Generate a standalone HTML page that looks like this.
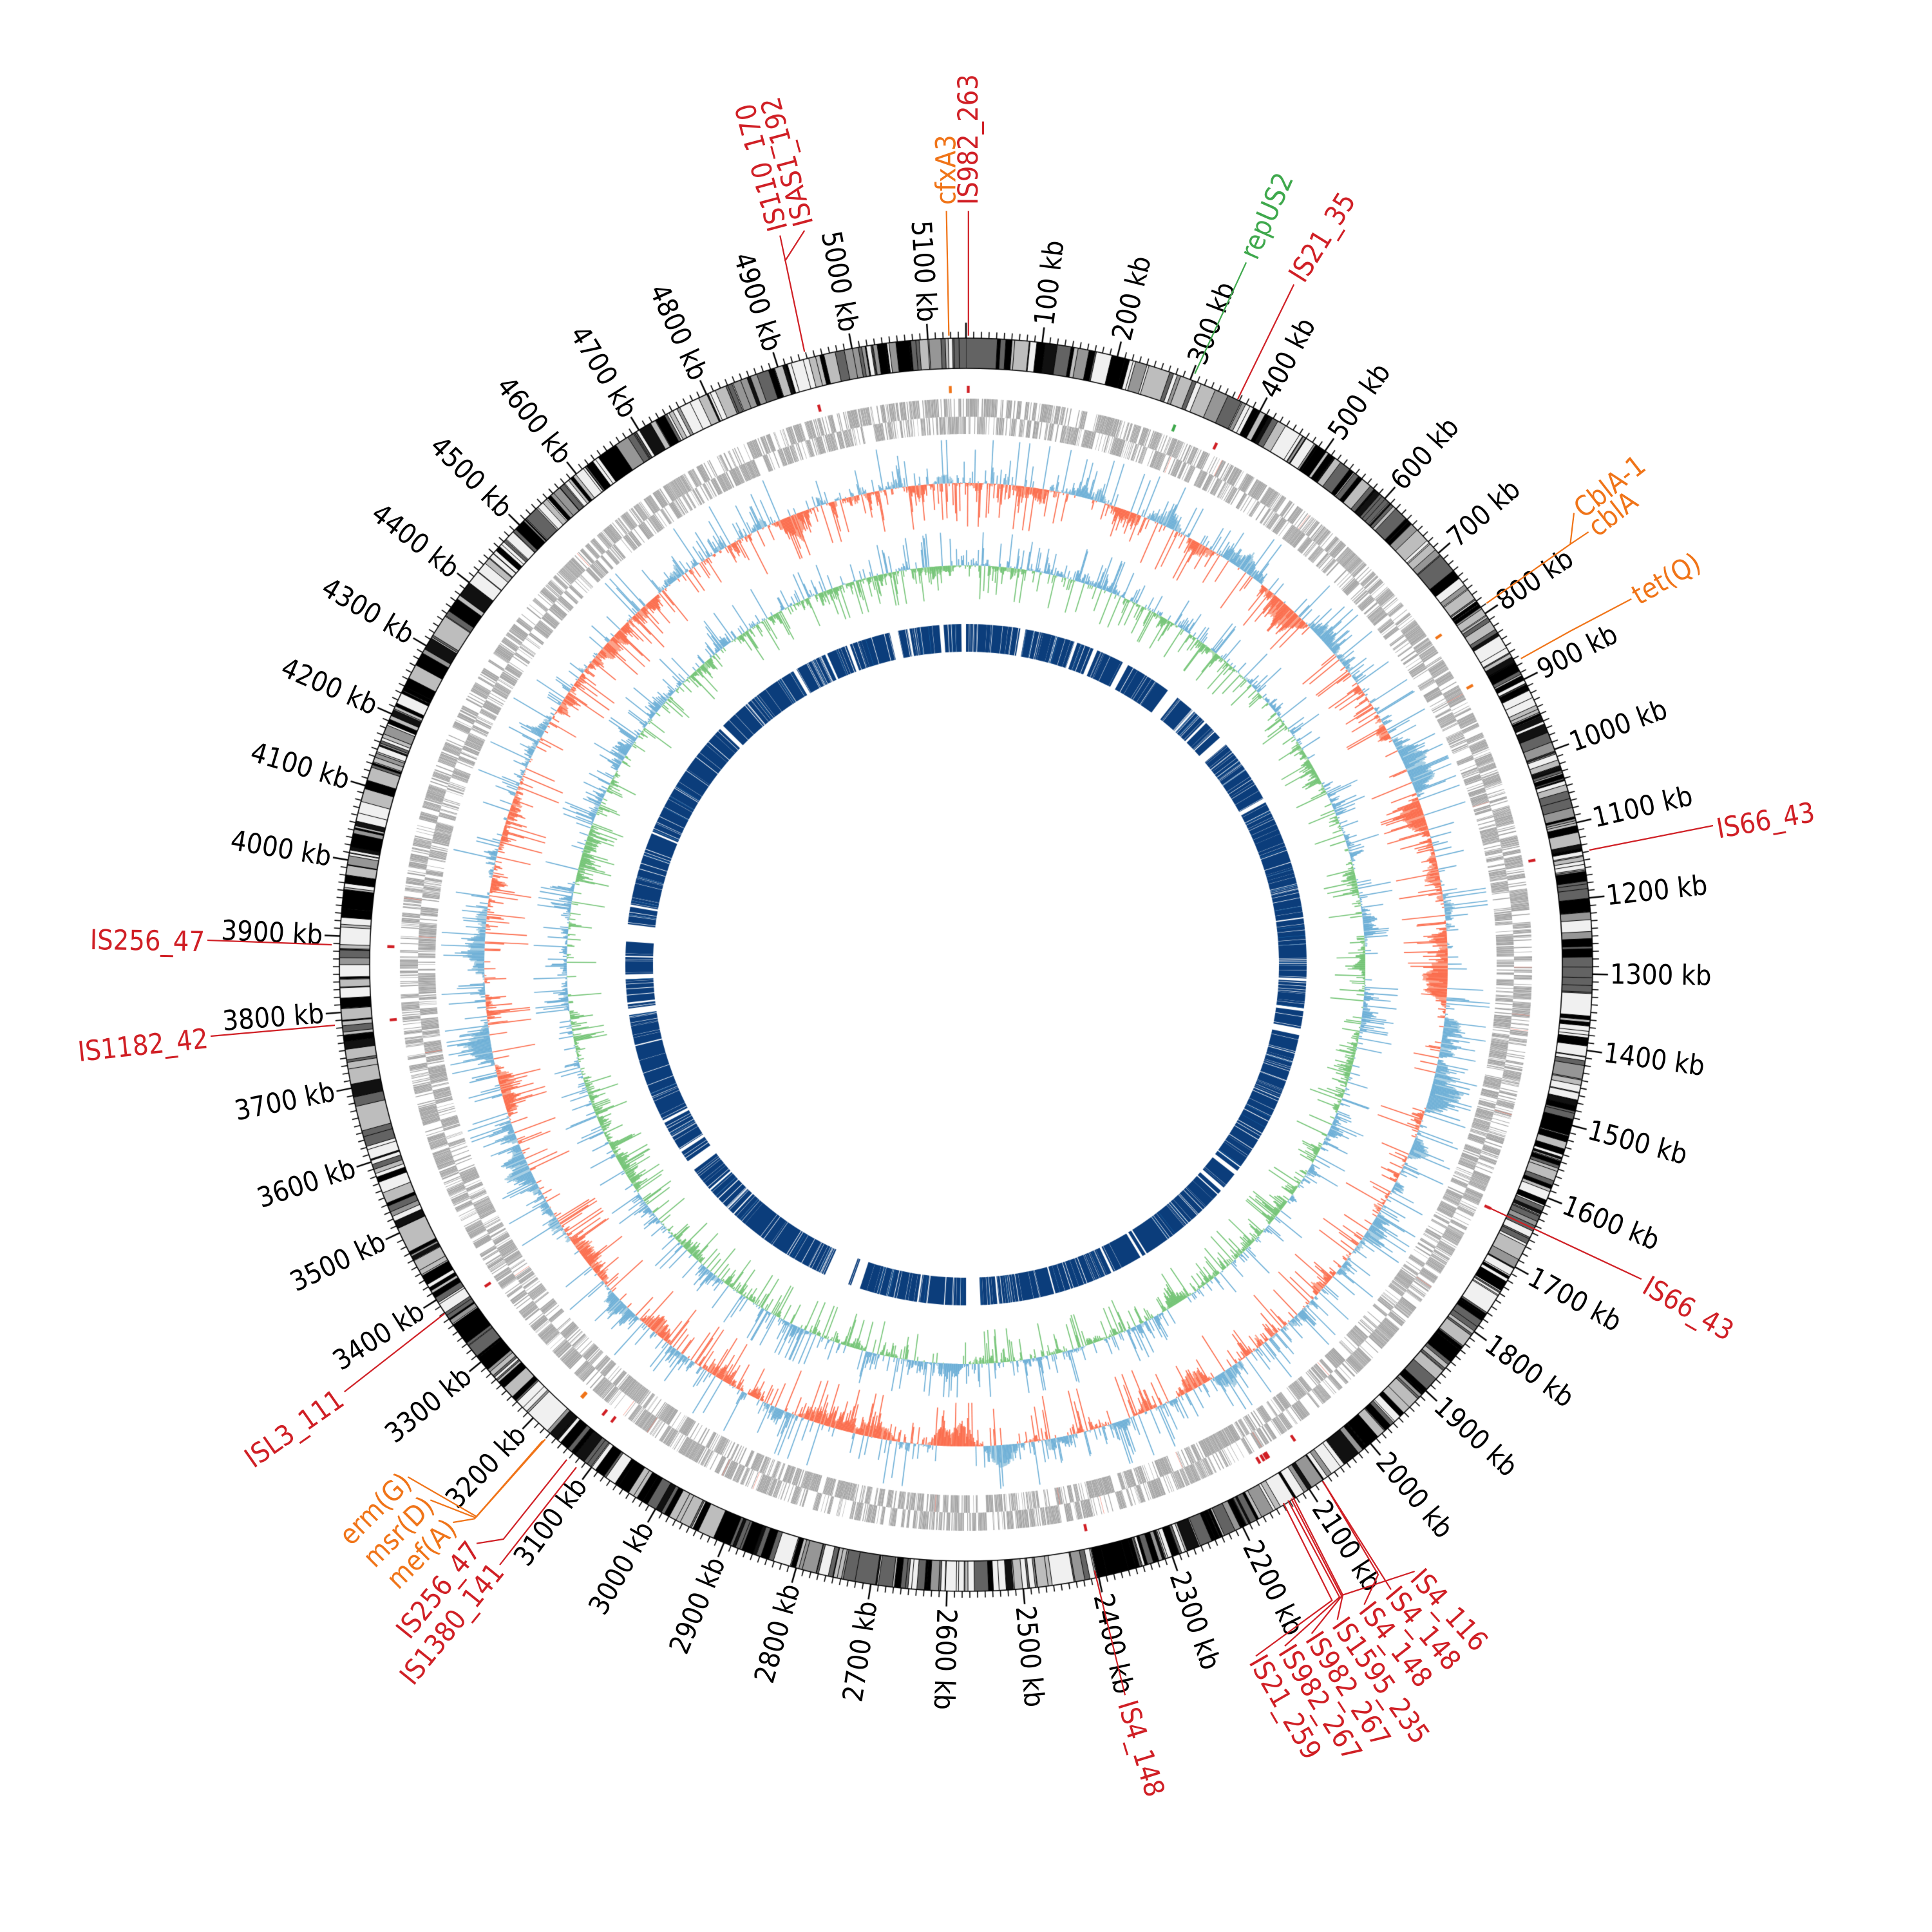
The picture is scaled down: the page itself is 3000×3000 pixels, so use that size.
<!DOCTYPE html>
<html><head><meta charset="utf-8">
<style>
html,body{margin:0;padding:0;background:#fff;}
#wrap{position:relative;width:3000px;height:3000px;overflow:hidden;background:#fff;}
canvas,svg{position:absolute;left:0;top:0;}
text{font-family:"DejaVu Sans Condensed","DejaVu Sans","Liberation Sans",sans-serif;font-stretch:condensed;font-size:43px;dominant-baseline:central;}
</style></head>
<body><div id="wrap"><canvas id="c" width="3000" height="3000"></canvas>
<svg id="s" width="3000" height="3000" xmlns="http://www.w3.org/2000/svg"></svg></div>
<script>
const L=5150,cx=1500,cy=1498;
const cv=document.getElementById('c'),ctx=cv.getContext('2d');
const svg=document.getElementById('s');
let sd=987654;
function rnd(){sd|=0;sd=sd+0x6D2B79F5|0;let t=Math.imul(sd^sd>>>15,1|sd);t=t+Math.imul(t^t>>>7,61|t)^t;return((t^t>>>14)>>>0)/4294967296;}
function gs(){return Math.sqrt(-2*Math.log(rnd()+1e-9))*Math.cos(2*Math.PI*rnd());}
const ang=p=>p/L*2*Math.PI-Math.PI/2;
function seg(r1,r2,p1,p2,col){ctx.beginPath();ctx.arc(cx,cy,r2,ang(p1),ang(p2));ctx.arc(cx,cy,r1,ang(p2),ang(p1),true);ctx.closePath();ctx.fillStyle=col;ctx.fill();}
function rad(p,r1,r2,col,w){const a=ang(p);ctx.beginPath();ctx.moveTo(cx+r1*Math.cos(a),cy+r1*Math.sin(a));ctx.lineTo(cx+r2*Math.cos(a),cy+r2*Math.sin(a));ctx.strokeStyle=col;ctx.lineWidth=w;ctx.stroke();}
// ideogram
const R1=926,R2=973;
const cols=['#000000','#000000','#111111','#636363','#636363','#bdbdbd','#bdbdbd','#f0f0f0','#f0f0f0','#969696'];
let p=0;
while(p<L){let w=Math.min(45,-Math.log(rnd()+1e-9)*7+0.6);let e=Math.min(L,p+w);seg(R1,R2,p,e+0.05,cols[Math.floor(rnd()*cols.length)]);rad(p,R1,R2,'#000',1);p=e;}
ctx.lineWidth=1.6;ctx.strokeStyle='#000';
ctx.beginPath();ctx.arc(cx,cy,R2,0,7);ctx.stroke();ctx.beginPath();ctx.arc(cx,cy,R1,0,7);ctx.stroke();
// ticks
for(let k=0;k<L;k+=10){const major=k%100===0;rad(k,R2,R2+(major?24:10),'#000',major?2.5:1.6);}
// gray features
const rows=[[851,879],[824,851]];
p=0;
while(p<L){let n=1+Math.floor(rnd()*5);let st=rnd()<.5?0:1;for(let i=0;i<n&&p<L;i++){let len=0.6+rnd()*1.6;seg(rows[st][0],rows[st][1],p,p+len,'#a3a3a3');if(rnd()<.35){let q=p+rnd()*len;seg(rows[1-st][0],rows[1-st][1],q,q+0.5+rnd(),'#a3a3a3');}p+=len+rnd()*0.35;}if(rnd()<.15)p+=rnd()*2;}
for(let i=0;i<25;i++){const q=rnd()*L;const st=rnd()<.5?0:1;seg(rows[st][0],rows[st][1],q,q+0.6,'#f08070');}
// skew & gc plots
function plot(base,A,cPos,cNeg,pPos,pNeg,N,sh){
 const g=[];for(let i=0;i<N;i++)g.push(gs());
 const sm=[];for(let i=0;i<N;i++){let s=0,c=0;for(let j=-12;j<=12;j++){const k=(i+j+N)%N;s+=g[k];c++;}sm.push(s/c*4);}
 const w=L/N;
 for(let i=0;i<N;i++){const v=sm[i]*0.35*A*sh;seg(Math.min(base,base+v),Math.max(base,base+v),i*w,(i+1)*w+0.3,v>0?pPos:pNeg);}
 for(let i=0;i<N;i++){const z=gs();const v=(sm[i]*0.3+z*Math.abs(z)*0.35)*A;const vv=Math.max(-A*1.3,Math.min(A*1.3,v));
  const a=ang((i+0.5)*w);ctx.beginPath();ctx.moveTo(cx+base*Math.cos(a),cy+base*Math.sin(a));ctx.lineTo(cx+(base+vv)*Math.cos(a),cy+(base+vv)*Math.sin(a));ctx.strokeStyle=vv>0?cPos:cNeg;ctx.lineWidth=1.6;ctx.stroke();}
}
plot(748,52,'#6baed6','#fb6a4a','#a6cee3','#fc9f86',2600,1);
plot(620,40,'#6baed6','#74c476','#b3d5ea','#a8dba8',2600,0.5);
// CDS
p=0;
while(p<L){let b=-Math.log(rnd()+1e-9)*10+0.5;let e=Math.min(L,p+b);seg(486,529,p,e,'#0b3d7b');
 if(rnd()<.15){const q=p+rnd()*b;seg(486,529,q,q+0.8,'#1f6fb0');}
 p=e+(rnd()<0.15?-Math.log(rnd()+1e-9)*10:rnd()*1.6);}
// labels
const NS='http://www.w3.org/2000/svg';
function el(n,a,t){const e=document.createElementNS(NS,n);for(const k in a)e.setAttribute(k,a[k]);if(t)e.textContent=t;svg.appendChild(e);return e;}
for(let k=100;k<L;k+=100){const th=k/L*360;const a=ang(k);const r=1000;const x=cx+r*Math.cos(a),y=cy+r*Math.sin(a);
 if(th<182)el('text',{x:x,y:y,transform:`rotate(${th-90} ${x} ${y})`,'text-anchor':'start',fill:'#000'},k+' kb');
 else el('text',{x:x,y:y,transform:`rotate(${th+90} ${x} ${y})`,'text-anchor':'end',fill:'#000'},k+' kb');}
const RED='#d01f25',OR='#f07418',GR='#3ea84c';
const D=(x,y)=>[(x-788)*1.9+1500,(y-788)*1.9+1498];
const Z3=(x,y)=>[1900+x/3,2280+y/3];
const Z4=(x,y)=>[500+x/3,2200+y/3];
const Z7=(x,y)=>[2300+x/3,700+y/3];
const A=[
 {t:'IS982_263',c:RED,l:[D(790,274),D(790,172)],at:D(790,167),r:-90,a:'start'},
 {t:'cfxA3',c:OR,l:[D(774,274),D(772,172)],at:D(772,167),r:-90,a:'start'},
 {t:'IS110_170',c:RED,l:[D(656,287),D(636,192)],at:D(635,188),r:-105,a:'start'},
 {t:'ISAS1_192',c:RED,l:[D(640,213),D(656,188)],at:D(656,184),r:-105,a:'start',nm:1},
 {t:'repUS2',c:GR,l:[D(975,305),D(1017,214)],at:D(1019,210),r:-66,a:'start'},
 {t:'IS21_35',c:RED,l:[D(1010,326),D(1056,232)],at:D(1058,228),r:-58,a:'start'},
 {t:'CblA-1',c:OR,l:[Z7(25,710),Z7(415,435),Z7(432,290)],at:[2450,795],r:-38,a:'start'},
 {t:'cblA',c:OR,l:[Z7(415,435),Z7(500,378)],at:[2472,824],r:-38,a:'start',nm:1},
 {t:'tet(Q)',c:OR,l:[Z7(185,968),Z7(415,840),Z7(700,690)],at:[2538,928],r:-30,a:'start'},
 {t:'IS66_43',c:RED,l:[[2468,1320],[2660,1282]],at:[2666,1288],r:-10,a:'start'},
 {t:'IS66_43',c:RED,l:[D(1212,985),D(1340,1045)],at:D(1343,1049),r:30,a:'start'},
 {t:'IS4_148',c:RED,l:[D(893,1283),D(918,1385)],at:D(919,1390),r:73,a:'start'},
 {t:'IS256_47',c:RED,l:[[515,1467],[322,1460]],at:[318,1463],r:1,a:'end'},
 {t:'IS1182_42',c:RED,l:[[520,1592],[327,1609]],at:[323,1613],r:-6,a:'end'},
 {t:'ISL3_111',c:RED,l:[D(362,1073),D(280,1137)],at:D(277,1141),r:-35,a:'end'},
 {t:'erm(G)',c:OR,l:[Z4(1040,105),Z4(720,465),Z4(400,280)],at:Z4(395,285),r:-45,a:'end'},
 {t:'msr(D)',c:OR,l:[Z4(1032,110),Z4(715,470),Z4(505,388)],at:Z4(500,395),r:-45,a:'end'},
 {t:'mef(A)',c:OR,l:[Z4(1025,115),Z4(710,475),Z4(610,492)],at:Z4(605,500),r:-45,a:'end'},
 {t:'IS256_47',c:RED,l:[Z4(1140,200),Z4(845,570),Z4(720,590)],at:Z4(712,600),r:-51,a:'end'},
 {t:'IS1380_141',c:RED,l:[Z4(1185,235),Z4(828,690)],at:Z4(822,700),r:-51,a:'end'},
 {t:'IS4_116',c:RED,l:[Z3(555,590),Z3(890,480)],at:Z3(895,490),r:48,a:'start',nm:1},
 {t:'IS4_148',c:RED,l:[[2054,2300],Z3(780,565)],at:Z3(780,570),r:50,a:'start'},
 {t:'IS4_148',c:RED,l:[[2054,2300],Z3(720,495),Z3(655,635)],at:Z3(658,640),r:52,a:'start',nm:1},
 {t:'IS1595_235',c:RED,l:[[2008,2325],Z3(555,590),Z3(530,705)],at:Z3(535,710),r:55,a:'start'},
 {t:'IS982_267',c:RED,l:[[2005,2327],Z3(550,595),Z3(410,770)],at:Z3(412,775),r:57,a:'start'},
 {t:'IS982_267',c:RED,l:[[2000,2330],Z3(540,600),Z3(285,828)],at:Z3(287,835),r:58,a:'start'},
 {t:'IS21_259',c:RED,l:[[1993,2334],Z3(505,615),Z3(150,875)],at:Z3(152,882),r:60,a:'start'}
];
A.forEach(o=>{
 el('polyline',{points:o.l.map(q=>q.join(',')).join(' '),fill:'none',stroke:o.c,'stroke-width':2.2});
 el('text',{x:o.at[0],y:o.at[1],fill:o.c,'text-anchor':o.a,transform:`rotate(${o.r} ${o.at[0]} ${o.at[1]})`},o.t);
 if(!o.nm){const q=o.l[0];let th=Math.atan2(q[0]-cx,-(q[1]-cy));if(th<0)th+=2*Math.PI;const pp=th/(2*Math.PI)*L;seg(888,899,pp-2,pp+2,o.c);}
});
</script>
</body></html>
